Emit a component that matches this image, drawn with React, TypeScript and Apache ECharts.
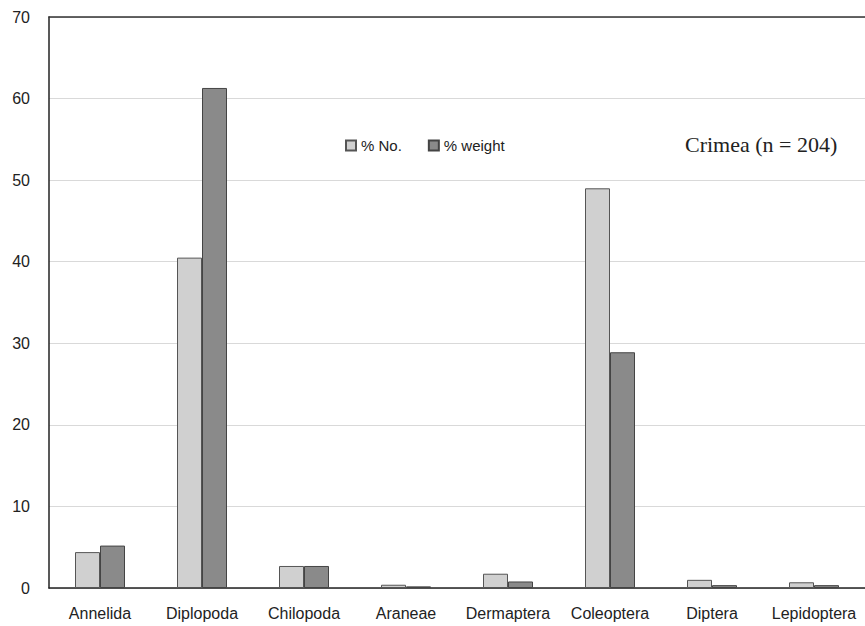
import React, { useEffect, useRef } from "react";
import * as echarts from "echarts";

const categories = ["Annelida", "Diplopoda", "Chilopoda", "Araneae", "Dermaptera", "Coleoptera", "Diptera", "Lepidoptera"];
const pctNo = [4.4, 40.5, 2.7, 0.4, 1.75, 49.0, 1.0, 0.7];
const pctWeight = [5.2, 61.3, 2.7, 0.2, 0.8, 28.9, 0.35, 0.35];
const seriesNames = ["% No.", "% weight"];
const titleText = "Crimea (n = 204)";

export default function App() {
  const ref = useRef<HTMLDivElement>(null);
  useEffect(() => {
    const chart = echarts.init(ref.current!, null, { renderer: "svg" });
    chart.setOption({
      animation: false,
      backgroundColor: "#ffffff",
      textStyle: { fontFamily: "Liberation Sans, Arial, sans-serif" },
      title: {
        text: titleText,
        left: 680,
        top: 128,
        textStyle: { fontFamily: "Liberation Serif, Times New Roman, serif", fontSize: 22, fontWeight: "normal", color: "#222" },
      },
      legend: {
        left: 340,
        top: 133,
        icon: "rect",
        itemWidth: 10,
        itemHeight: 10,
        itemGap: 26,
        textStyle: { fontSize: 15, color: "#222" },
        data: seriesNames,
      },
      grid: { left: 49, right: 0, top: 17, bottom: 38, containLabel: false },
      xAxis: [
        {
          type: "category",
          data: categories,
          axisLine: { lineStyle: { color: "#222", width: 1.5 } },
          axisTick: { show: false },
          axisLabel: { fontSize: 16, color: "#222", margin: 17, interval: 0 },
        },
        {
          type: "category",
          position: "top",
          data: categories,
          axisLine: { show: true, onZero: false, lineStyle: { color: "#333", width: 1.5 } },
          axisTick: { show: false },
          axisLabel: { show: false },
        },
      ],
      yAxis: {
        type: "value",
        min: 0,
        max: 70,
        interval: 10,
        axisLine: { show: true, lineStyle: { color: "#222", width: 1.5 } },
        axisTick: { show: false },
        axisLabel: { fontSize: 16, color: "#222", margin: 19 },
        splitLine: { lineStyle: { color: "#d9d9d9", width: 1 } },
      },
      series: [
        {
          name: seriesNames[0],
          type: "bar",
          data: pctNo,
          barWidth: 25,
          barGap: "0%",
          itemStyle: { color: "#d0d0d0", borderColor: "#555", borderWidth: 1 },
        },
        {
          name: seriesNames[1],
          type: "bar",
          data: pctWeight,
          barWidth: 25,
          barGap: "0%",
          itemStyle: { color: "#8a8a8a", borderColor: "#444", borderWidth: 1 },
        },
      ],
    });
    return () => chart.dispose();
  }, []);
  return <div ref={ref} style={{ position: "absolute", left: 0, top: 0, width: 865, height: 626 }} />;
}
